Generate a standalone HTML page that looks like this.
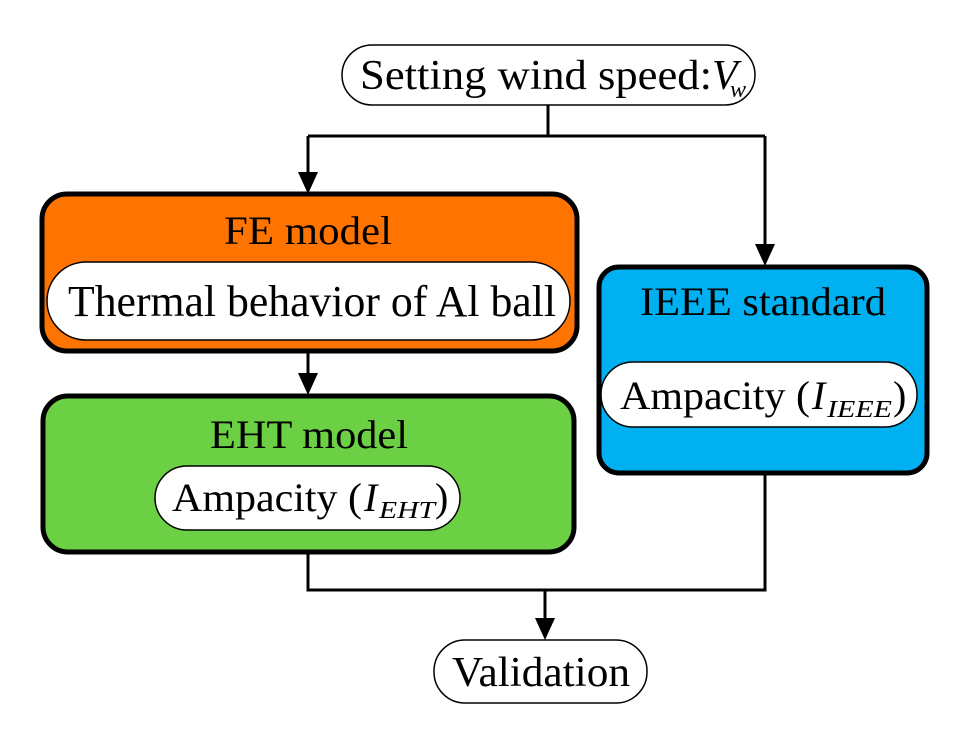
<!DOCTYPE html>
<html><head><meta charset="utf-8"><style>html,body{margin:0;padding:0;background:#fff}svg{display:block}svg text{font-family:"Liberation Serif","Times New Roman",serif}</style></head>
<body>
<svg width="960" height="743" viewBox="0 0 960 743" xmlns="http://www.w3.org/2000/svg" fill="#000">
<g stroke="#000" stroke-width="3" fill="none">
<path d="M548,105 V136"/>
<path d="M308,136 H765"/>
<path d="M308,136 V176"/>
<path d="M765,136 V250"/>
<path d="M308,352 V380"/>
<path d="M308,553 V590 H765 V474"/>
<path d="M545,590 V624"/>
</g>
<path d="M298,172 L318,172 L308,194Z"/>
<path d="M755,244 L775,244 L765,266Z"/>
<path d="M298,373 L318,373 L308,395Z"/>
<path d="M535,618 L555,618 L545,640Z"/>
<rect x="342" y="45" width="413" height="60" rx="30" fill="#fff" stroke="#000" stroke-width="1.5"/>
<text x="360" y="89" font-size="42" textLength="352" lengthAdjust="spacingAndGlyphs">Setting wind speed:</text>
<text x="712" y="89" font-size="42" font-style="italic">V</text>
<text x="730" y="97" font-size="24" font-style="italic">w</text>
<rect x="42" y="194" width="535" height="157" rx="25" fill="#FF7300" stroke="#000" stroke-width="5"/>
<text x="308" y="244" font-size="40" text-anchor="middle" textLength="168" lengthAdjust="spacingAndGlyphs">FE model</text>
<rect x="47" y="262" width="523" height="78" rx="39" fill="#fff" stroke="#000" stroke-width="1.5"/>
<text x="68" y="316" font-size="44" textLength="488" lengthAdjust="spacingAndGlyphs">Thermal behavior of Al ball</text>
<rect x="43" y="396" width="531" height="156" rx="25" fill="#6CD044" stroke="#000" stroke-width="5"/>
<text x="309" y="448" font-size="40" text-anchor="middle" textLength="198" lengthAdjust="spacingAndGlyphs">EHT model</text>
<rect x="155" y="466" width="305" height="64" rx="32" fill="#fff" stroke="#000" stroke-width="1.5"/>
<text x="172" y="511" font-size="40" textLength="190" lengthAdjust="spacingAndGlyphs">Ampacity (</text>
<text x="364" y="511" font-size="40" font-style="italic">I</text>
<text x="379" y="518" font-size="24" font-style="italic" textLength="56" lengthAdjust="spacingAndGlyphs">EHT</text>
<text x="435" y="511" font-size="40">)</text>
<rect x="599" y="267" width="328" height="206" rx="20" fill="#00B0F0" stroke="#000" stroke-width="5"/>
<text x="763" y="315" font-size="40" text-anchor="middle" textLength="246" lengthAdjust="spacingAndGlyphs">IEEE standard</text>
<rect x="601" y="362" width="316" height="65" rx="32" fill="#fff" stroke="#000" stroke-width="1.5"/>
<text x="620" y="409" font-size="40" textLength="190" lengthAdjust="spacingAndGlyphs">Ampacity (</text>
<text x="812" y="409" font-size="40" font-style="italic">I</text>
<text x="827" y="417" font-size="24" font-style="italic" textLength="65" lengthAdjust="spacingAndGlyphs">IEEE</text>
<text x="893" y="409" font-size="40">)</text>
<rect x="434" y="640" width="213" height="63" rx="31" fill="#fff" stroke="#000" stroke-width="1.5"/>
<text x="452" y="686" font-size="42" textLength="178" lengthAdjust="spacingAndGlyphs">Validation</text>
</svg>
</body></html>
